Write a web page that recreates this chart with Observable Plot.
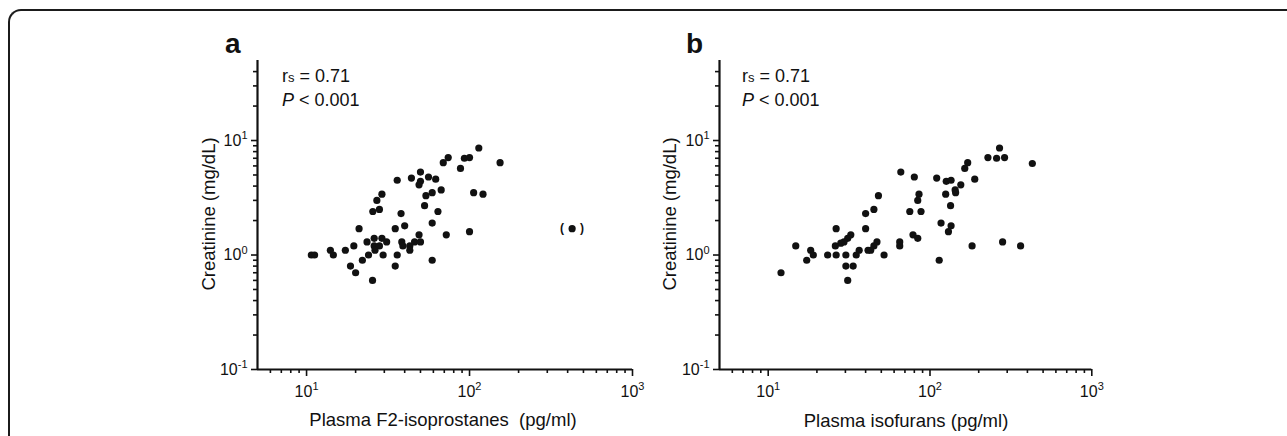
<!DOCTYPE html>
<html><head><meta charset="utf-8">
<script src="https://cdn.jsdelivr.net/npm/d3@7"></script>
<script src="https://cdn.jsdelivr.net/npm/@observablehq/plot@0.6"></script>
<style>
body{margin:0;background:#fff;}
#wrap{position:relative;width:1287px;height:436px;overflow:hidden;background:#fff;font-family:"Liberation Sans",Arial,Helvetica,sans-serif;}
#border{position:absolute;left:8px;top:9px;width:1300px;height:500px;border-top:2px solid #1b1b1b;border-left:2px solid #1b1b1b;border-top-left-radius:13px;}
.panel{position:absolute;top:0;}
#ov{position:absolute;left:0;top:0;font-family:"Liberation Sans",Arial,Helvetica,sans-serif;fill:#111;}
</style></head><body>
<div id="wrap">
<div id="border"></div>
<div id="pa" class="panel" style="left:0px"></div>
<div id="pb" class="panel" style="left:640px"></div>
<svg id="ov" width="1287" height="436">
  <text x="225" y="53" font-size="28" font-weight="bold">a</text>
  <text x="686" y="53" font-size="28" font-weight="bold">b</text>
  <text x="282" y="82" font-size="18">r<tspan font-size="13">s</tspan> = 0.71</text>
  <text x="282" y="106" font-size="18"><tspan font-style="italic">P</tspan> &lt; 0.001</text>
  <text x="742" y="82" font-size="18">r<tspan font-size="13">s</tspan> = 0.71</text>
  <text x="742" y="106" font-size="18"><tspan font-style="italic">P</tspan> &lt; 0.001</text>
  <text x="443" y="426" font-size="18.5" text-anchor="middle" xml:space="preserve">Plasma F2-isoprostanes  (pg/ml)</text>
  <text x="906" y="427" font-size="18.5" text-anchor="middle">Plasma isofurans (pg/ml)</text>
  <text transform="translate(215,214) rotate(-90)" font-size="18.5" text-anchor="middle">Creatinine (mg/dL)</text>
  <text transform="translate(676,214) rotate(-90)" font-size="18.5" text-anchor="middle">Creatinine (mg/dL)</text>
</svg>
</div>
<script>
// Panel a: plasma F2-isoprostanes (pg/ml) vs creatinine (mg/dL)
const isoprostanes = [114,154,74,69,93,100,88,50,36,44,56,62,50,49,67,59,54,106,121,29,27,28,25.5,53,64,38,40,35,21,59,72,100,49,426,26,29,23.5,31,19.5,26,28,26.3,38.4,39,43,46,50,43,14,17.3,10.7,11.2,14.6,24,29.5,36,22,59,18.6,35,20,25.4];
const creatinineA = [8.6,6.4,7.1,6.4,7.0,7.1,5.7,5.3,4.5,4.7,4.8,4.6,4.4,4.1,3.7,3.5,3.3,3.5,3.4,3.4,3.0,2.5,2.4,2.7,2.4,2.3,1.8,1.7,1.7,1.9,1.5,1.6,1.5,1.7,1.4,1.4,1.3,1.3,1.2,1.2,1.2,1.1,1.3,1.2,1.2,1.3,1.3,1.1,1.1,1.1,1.0,1.0,1.0,1.0,1.0,1.0,0.9,0.9,0.8,0.8,0.7,0.6];
const bracketedA = [33]; // index of the bracketed (excluded) point

// Panel b: plasma isofurans (pg/ml) vs creatinine (mg/dL)
const isofurans = [269,228,258,289,429,171,164,66,80,110,126,135,189,155,143,144,125,85.5,84,48,45,40,75,88,134,117,135,130,26.3,40,32.4,31,29.4,28.1,78.5,84,65,65,47,45,41.4,43,26,14.8,182,281,363,18.3,36.5,35,19,17.3,12,23.3,26.3,30.2,52,30.2,33.5,31,114];
const creatinineB = [8.6,7.1,7.0,7.1,6.3,6.4,5.7,5.3,4.8,4.7,4.4,4.5,4.6,4.1,3.7,3.5,3.4,3.4,3.0,3.3,2.5,2.3,2.4,2.4,2.7,1.9,1.8,1.6,1.7,1.7,1.5,1.4,1.3,1.27,1.5,1.4,1.3,1.2,1.3,1.2,1.1,1.1,1.2,1.2,1.2,1.3,1.2,1.1,1.1,1.0,1.0,0.9,0.7,1.0,1.0,1.0,1.0,0.8,0.8,0.6,0.9];

// Axes
const xDomain = [5, 1000];
const yDomain = [0.1, 50];
const majorX = [10, 100, 1000];
const minorX = [6,7,8,9,20,30,40,50,60,70,80,90,200,300,400,500,600,700,800,900];
const majorY = [0.1, 1, 10];
const minorY = [0.2,0.3,0.4,0.5,0.6,0.7,0.8,0.9,2,3,4,5,6,7,8,9,20,30,40];

const fmt = d => "10^" + Math.round(Math.log10(d));
const font = '"Liberation Sans", Arial, Helvetica, sans-serif';

function superscripts(svg) {
  svg.querySelectorAll('g[aria-label$="tick label"] text').forEach(t => {
    const s = t.textContent;
    const i = s.indexOf("^");
    if (i < 0) return;
    t.textContent = s.slice(0, i);
    const ts = document.createElementNS("http://www.w3.org/2000/svg", "tspan");
    ts.setAttribute("dy", "-6.5");
    ts.setAttribute("font-size", "11");
    ts.textContent = s.slice(i + 1);
    t.appendChild(ts);
  });
  return svg;
}

function panel(xs, ys, bracketIdx, w, ml, mr) {
  const data = xs.map((x, i) => ({x, y: ys[i]}));
  const br = bracketIdx.map(i => data[i]);
  return superscripts(Plot.plot({
    width: w, height: 436,
    marginLeft: ml, marginRight: mr, marginTop: 60, marginBottom: 67,
    x: {type: "log", domain: xDomain, label: null},
    y: {type: "log", domain: yDomain, label: null},
    style: {fontFamily: font, fontSize: "16px", color: "#111", background: "transparent", overflow: "visible"},
    marks: [
      Plot.axisX({ticks: minorX, tickSize: 4, tickFormat: () => "", stroke: "#111", strokeWidth: 1.6, label: null}),
      Plot.axisX({ticks: majorX, tickSize: 7, tickFormat: fmt, tickPadding: 9, stroke: "#111", strokeWidth: 1.6, label: null, fontSize: 16}),
      Plot.axisY({ticks: minorY, tickSize: 4, tickFormat: () => "", stroke: "#111", strokeWidth: 1.6, label: null}),
      Plot.axisY({ticks: majorY, tickSize: 6, tickFormat: fmt, tickPadding: 4, stroke: "#111", strokeWidth: 1.6, label: null, fontSize: 16}),
      Plot.ruleX([xDomain[0]], {stroke: "#111", strokeWidth: 2.2}),
      Plot.ruleY([yDomain[0]], {stroke: "#111", strokeWidth: 2.2}),
      Plot.dot(data, {x: "x", y: "y", r: 3.6, fill: "#111", stroke: "none"}),
      Plot.text(br, {x: "x", y: "y", text: () => "(", dx: -10, fontWeight: "bold", fontSize: 12, fill: "#111"}),
      Plot.text(br, {x: "x", y: "y", text: () => ")", dx: 10, fontWeight: "bold", fontSize: 12, fill: "#111"})
    ]
  }));
}

document.getElementById("pa").appendChild(panel(isoprostanes, creatinineA, bracketedA, 650, 257, 18));
document.getElementById("pb").appendChild(panel(isofurans, creatinineB, [], 647, 79, 195.7));
</script>
</body></html>
